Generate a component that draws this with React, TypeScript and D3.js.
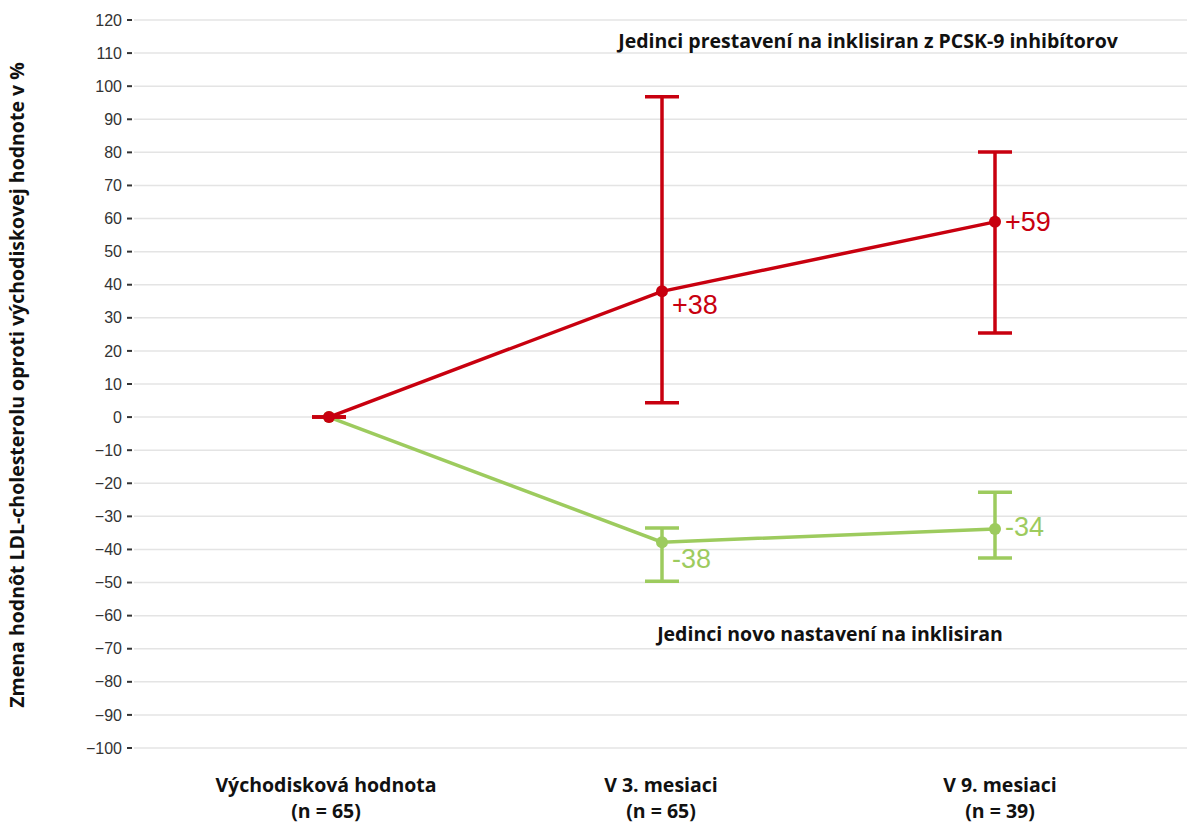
import React from "react";
import * as d3 from "d3";

const categories = ["Východisková hodnota", "V 3. mesiaci", "V 9. mesiaci"];
const nLabels = ["(n = 65)", "(n = 65)", "(n = 39)"];
const redMean = [0, 38, 59];
const redLow = [0, 4.3, 25.4];
const redHigh = [0, 96.8, 80.1];
const redLabels = ["", "+38", "+59"];
const greenMean = [0, -37.8, -33.8];
const greenLow = [0, -49.6, -42.6];
const greenHigh = [0, -33.5, -22.7];
const greenLabels = ["", "-38", "-34"];
const yTicks = d3.range(-100, 121, 10);
const redTitle = "Jedinci prestavení na inklisiran z PCSK-9 inhibítorov";
const greenTitle = "Jedinci novo nastavení na inklisiran";
const yTitle = "Zmena hodnôt LDL-cholesterolu oproti východiskovej hodnote v %";

const W = 1187, H = 825;
const RED = "#C8000F";
const GREEN = "#9DCB5E";
const BOLD = "Open Sans, sans-serif";
const catX = [326, 661, 1000];

export default function App() {
  const y = d3.scaleLinear().domain([-100, 120]).range([748, 20]);
  const x = d3.scalePoint<number>().domain([0, 1, 2]).range([329, 995]);
  const line = d3.line<number>().x((_, i) => x(i)!).y((v) => y(v));
  const capW = 17;

  const series = [
    { mean: greenMean, low: greenLow, high: greenHigh, labels: greenLabels, color: GREEN, dy: [0, 26, 7] },
    { mean: redMean, low: redLow, high: redHigh, labels: redLabels, color: RED, dy: [0, 23, 9] },
  ];

  return (
    <svg width={W} height={H} style={{ position: "absolute", left: 0, top: 0, background: "#fff" }}>
      {yTicks.map((t) => (
        <g key={t}>
          <line x1={134} x2={W} y1={y(t)} y2={y(t)} stroke="#e4e4e4" strokeWidth={1.5} />
          <line x1={127} x2={132} y1={y(t)} y2={y(t)} stroke="#333" strokeWidth={2} />
          <text x={122} y={y(t)} dy="0.35em" textAnchor="end" fontFamily="Liberation Sans, Arial, sans-serif" fontSize={16} fill="#333">
            {t < 0 ? "\u2212" + Math.abs(t) : String(t)}
          </text>
        </g>
      ))}
      <text transform={`translate(24,385) rotate(-90)`} textAnchor="middle" fontFamily={BOLD} fontWeight="bold" fontSize={19.5} fill="#111">
        {yTitle}
      </text>
      {series.map((s, si) => (
        <g key={si}>
          {s.mean.map((m, i) => (
            <g key={i}>
              <line x1={x(i)} x2={x(i)} y1={y(s.low[i])} y2={y(s.high[i])} stroke={s.color} strokeWidth={3.5} />
              <line x1={x(i)! - capW} x2={x(i)! + capW} y1={y(s.low[i])} y2={y(s.low[i])} stroke={s.color} strokeWidth={3.5} />
              <line x1={x(i)! - capW} x2={x(i)! + capW} y1={y(s.high[i])} y2={y(s.high[i])} stroke={s.color} strokeWidth={3.5} />
            </g>
          ))}
          <path d={line(s.mean)!} fill="none" stroke={s.color} strokeWidth={3.5} />
          {s.mean.map((m, i) => (
            <circle key={i} cx={x(i)} cy={y(m)} r={6} fill={s.color} />
          ))}
          {s.labels.map((l, i) =>
            l ? (
              <text key={i} x={x(i)! + 10} y={y(s.mean[i]) + s.dy[i]} fontFamily="Liberation Sans, Arial, sans-serif" fontSize={27} fill={s.color}>
                {l}
              </text>
            ) : null
          )}
        </g>
      ))}
      <text x={868} y={48} textAnchor="middle" fontFamily={BOLD} fontWeight="bold" fontSize={19.5} fill="#111">
        {redTitle}
      </text>
      <text x={830} y={641} textAnchor="middle" fontFamily={BOLD} fontWeight="bold" fontSize={19.5} fill="#111">
        {greenTitle}
      </text>
      {categories.map((c, i) => (
        <g key={c}>
          <text x={catX[i]} y={792} textAnchor="middle" fontFamily={BOLD} fontWeight="bold" fontSize={19.5} fill="#111">
            {c}
          </text>
          <text x={catX[i]} y={818} textAnchor="middle" fontFamily={BOLD} fontWeight="bold" fontSize={19.5} fill="#111">
            {nLabels[i]}
          </text>
        </g>
      ))}
    </svg>
  );
}
